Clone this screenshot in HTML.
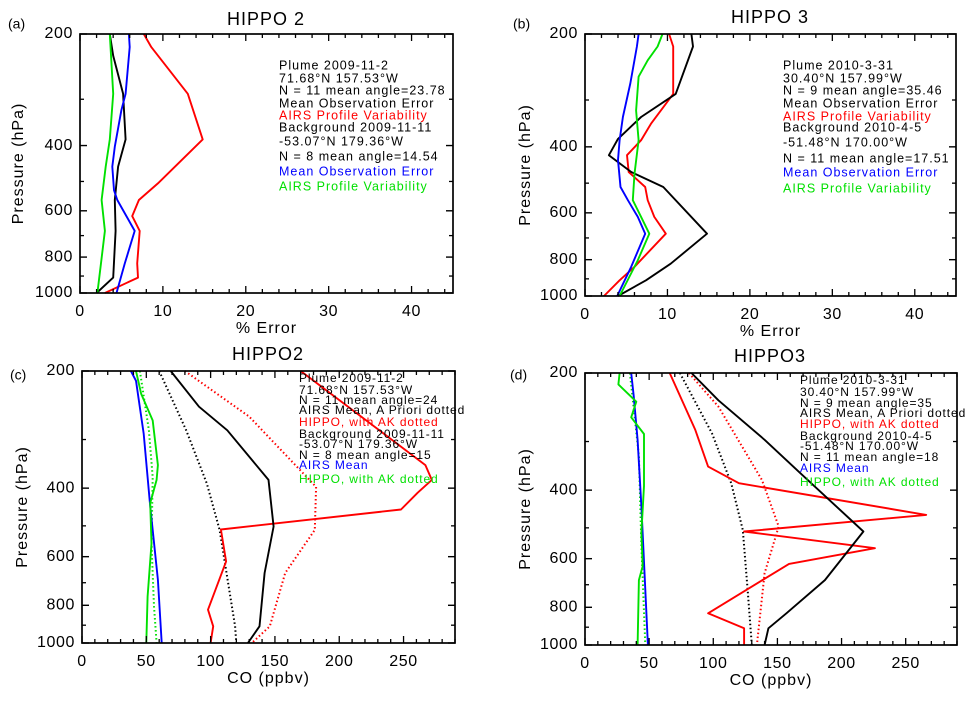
<!DOCTYPE html>
<html><head><meta charset="utf-8"><style>
html,body{margin:0;padding:0;background:#fff;}
svg{display:block;font-family:"Liberation Sans","DejaVu Sans",sans-serif;}
</style></head><body>
<svg id="fig" width="971" height="702" viewBox="0 0 971 702" xmlns="http://www.w3.org/2000/svg"></svg>
<script>
// ---------- data ----------
// Panel (a) HIPPO 2 % error
const aRedP=[200,217,290,385,506,561,620,680,832,909,1000];
const aRedV=[7.7,8.6,13.0,14.8,9.4,7.1,6.3,7.2,6.9,7.0,3.0];
const aBlackP=[200,229,290,385,456,561,680,909,1000];
const aBlackV=[3.6,4.0,5.2,5.5,4.6,4.2,4.3,4.0,2.0];
const aBlueP=[200,217,290,321,403,456,528,561,620,680,832,1000];
const aBlueV=[5.9,6.0,5.5,5.0,4.2,3.9,4.1,4.5,5.6,6.6,5.4,4.4];
const aGreenP=[200,290,385,456,561,680,1000];
const aGreenV=[3.6,4.0,3.6,3.1,2.6,3.0,2.1];
// Panel (b) HIPPO 3 % error
const bRedP=[200,216,289,347,384,421,467,512,555,615,682,836,908,1000];
const bRedV=[10.2,10.7,10.7,8.0,6.8,5.1,5.3,7.3,7.6,8.4,9.8,6.0,4.2,2.3];
const bBlackP=[200,216,289,333,381,421,467,512,682,820,908,1000];
const bBlackV=[12.9,13.1,11.0,6.8,4.0,2.9,5.6,9.5,14.8,10.4,7.4,4.0];
const bBlueP=[200,216,271,333,384,434,512,555,615,682,836,1000];
const bBlueV=[6.5,6.3,5.5,4.6,4.2,4.0,4.3,5.2,6.4,7.3,5.6,3.9];
const bGreenP=[200,216,235,260,320,384,472,555,615,682,803,1000];
const bGreenV=[9.4,8.8,7.6,6.5,6.2,6.5,6.0,5.8,6.8,7.8,6.4,4.2];
// Panel (c) HIPPO2 CO
const cRedP=[200,349,381,411,454,511,617,821,906,1000];
const cRedV=[170,267,272,261,248,108,112,98,102,100];
const cRedDotP=[200,262,397,512,661,906,1000];
const cRedDotV=[80,130,182,181,158,146,132];
const cBlackP=[200,247,284,381,502,661,906,1000];
const cBlackV=[69,91,113,145,149,142,138,129];
const cBlackDotP=[200,284,389,512,906,1000];
const cBlackDotV=[60,81,97,107,119,120];
const cBlueP=[200,212,290,445,688,1000];
const cBlueV=[38,42,48,53,59,62];
const cGreenP=[200,229,268,349,381,437,555,759,1000];
const cGreenV=[42,46,55,59,58,53,54,51,50];
const cGreenDotP=[200,284,375,555,805,1000];
const cGreenDotV=[45,52,55,54,56,58];
// Panel (d) HIPPO3 CO
const dRedP=[200,280,348,384,463,511,564,619,829,906,1000];
const dRedV=[66,86,96,120,266,124,226,159,96,124,124];
const dRedDotP=[200,244,377,496,654,1000];
const dRedDotV=[81,104,138,151,140,134];
const dBlackP=[200,235,297,362,511,681,829,906,1000];
const dBlackV=[83,104,140,168,217,187,157,143,140];
const dBlackDotP=[200,286,384,506,736,1000];
const dBlackDotV=[74,99,114,123,127,130];
const dBlueP=[200,229,297,441,1000];
const dBlueV=[36,38,41,44,49];
const dGreenP=[200,214,237,260,287,390,514,627,681,1000];
const dGreenV=[27,26,40,36,46,46,44,45,42,41];
const dGreenDotP=[200,327,555,1000];
const dGreenDotV=[35,42,44,47];
// ticks
const pTicks=[200,400,600,800,1000];
const pMinor=[300,500,700,900];
const errTicks=[0,10,20,30,40];
const coTicks=[0,50,100,150,200,250];

// ---------- drawing ----------
const NS="http://www.w3.org/2000/svg";
const svg=document.getElementById('fig');
function mk(tag,attrs,parent){const e=document.createElementNS(NS,tag);for(const k in attrs)e.setAttribute(k,attrs[k]);(parent||svg).appendChild(e);return e;}
function txt(s,x,y,size,color,anchor,parent,ls){const t=mk('text',{x:x,y:y,'font-size':size,fill:color,'text-anchor':anchor||'start','dominant-baseline':'middle'},parent);if(ls)t.setAttribute('letter-spacing',ls);t.textContent=s;return t;}

function panel(cfg){
  const g=mk('g',{});
  
  
  const L=cfg.L,R=cfg.R,T=cfg.T,B=cfg.B;
  const xs=v=>L+(v-0)/cfg.xmax*(R-L);
  const ys=p=>T+Math.log(p/200)/Math.log(5)*(B-T);
  cfg.series.forEach(s=>{
    const pts=s.p.map((p,i)=>xs(s.v[i]).toFixed(1)+','+ys(p).toFixed(1)).join(' ');
    const pl=mk('polyline',{points:pts,fill:'none',stroke:s.c,'stroke-width':1.9,'stroke-linejoin':'round'},g);
    if(s.dot){pl.setAttribute('stroke-dasharray','1.5,2.5');pl.setAttribute('stroke-width',2);}
    
    
  });
  const fr=mk('rect',{x:L,y:T,width:R-L,height:B-T,fill:'none',stroke:'#000','stroke-width':1.7},g);
  
  
  pTicks.forEach(p=>{const y=ys(p);mk('line',{x1:L,x2:L+7,y1:y,y2:y,stroke:'#000','stroke-width':1.4},g);mk('line',{x1:R,x2:R-7,y1:y,y2:y,stroke:'#000','stroke-width':1.4},g);
    const t=txt(String(p),L-7,y,16,'#000','end',g,0.6);});
  pMinor.forEach(p=>{const y=ys(p);mk('line',{x1:L,x2:L+4,y1:y,y2:y,stroke:'#000','stroke-width':1.3},g);mk('line',{x1:R,x2:R-4,y1:y,y2:y,stroke:'#000','stroke-width':1.3},g);});
  for(let v=0;v<=cfg.xmax;v+=cfg.minor){const x=xs(v);const maj=Math.abs(v/cfg.major-Math.round(v/cfg.major))<1e-6;const l=maj?7:4;
    mk('line',{x1:x,x2:x,y1:B,y2:B-l,stroke:'#000','stroke-width':1.3},g);mk('line',{x1:x,x2:x,y1:T,y2:T+l,stroke:'#000','stroke-width':1.3},g);}
  cfg.xticks.forEach(v=>{const t=txt(String(v),xs(v),B+19,16,'#000','middle',g,0.6);});
  let t=txt(cfg.title,cfg.tx,cfg.ty,18,'#000','middle',g,1);
  t=txt(cfg.label,cfg.lx,cfg.ly,14,'#000','start',g);
  t=txt(cfg.xtitle,(L+R)/2,B+36,16,'#000','middle',g,1);
  const yc=(T+B)/2;
  t=txt('Pressure (hPa)',0,0,16,'#000','middle',g,1);t.setAttribute('transform','translate('+cfg.yx+','+yc+') rotate(-90)');
  cfg.legend.forEach((e,i)=>{const lt=txt(e[0],cfg.legX,cfg.legY[i],cfg.legSize,e[1],'start',g,cfg.legLS);});
}
const K='#000',RD='#ff0000',BL='#0000ff',GR='#00e000';
panel({name:'panel-a-hippo2-error',L:80,R:453,T:34,B:293,xmax:45,minor:2,major:10,xticks:errTicks,
  title:'HIPPO 2',tx:266,ty:20,label:'(a)',lx:8,ly:25,xtitle:'% Error',yx:19,
  series:[{p:aRedP,v:aRedV,c:RD,n:'red-airs-variability'},{p:aBlackP,v:aBlackV,c:K,n:'black-obs-error'},{p:aBlueP,v:aBlueV,c:BL,n:'blue-obs-error'},{p:aGreenP,v:aGreenV,c:GR,n:'green-airs-variability'}],
  legX:279,legY:[66,79,91,104,116,128,142,157,172,187],legSize:12.5,legLS:1,
  legend:[['Plume 2009-11-2',K],['71.68°N 157.53°W',K],['N = 11 mean angle=23.78',K],['Mean Observation Error',K],['AIRS Profile Variability',RD],['Background 2009-11-11',K],['-53.07°N 179.36°W',K],['N = 8 mean angle=14.54',K],['Mean Observation Error',BL],['AIRS Profile Variability',GR]]});
panel({name:'panel-b-hippo3-error',L:585,R:956,T:34,B:296,xmax:45,minor:2,major:10,xticks:errTicks,
  title:'HIPPO 3',tx:770,ty:18,label:'(b)',lx:513,ly:25,xtitle:'% Error',yx:526,
  series:[{p:bRedP,v:bRedV,c:RD,n:'red-airs-variability'},{p:bBlackP,v:bBlackV,c:K,n:'black-obs-error'},{p:bBlueP,v:bBlueV,c:BL,n:'blue-obs-error'},{p:bGreenP,v:bGreenV,c:GR,n:'green-airs-variability'}],
  legX:783,legY:[66,79,91,104,117,128,143,159,173,189],legSize:12.5,legLS:1,
  legend:[['Plume 2010-3-31',K],['30.40°N 157.99°W',K],['N = 9 mean angle=35.46',K],['Mean Observation Error',K],['AIRS Profile Variability',RD],['Background 2010-4-5',K],['-51.48°N 170.00°W',K],['N = 11 mean angle=17.51',K],['Mean Observation Error',BL],['AIRS Profile Variability',GR]]});
panel({name:'panel-c-hippo2-co',L:82,R:455,T:371,B:643,xmax:290,minor:10,major:50,xticks:coTicks,
  title:'HIPPO2',tx:268,ty:355,label:'(c)',lx:10,ly:376,xtitle:'CO (ppbv)',yx:23,
  series:[{p:cRedDotP,v:cRedDotV,c:RD,dot:1,n:'red-hippo-ak-dotted'},{p:cBlackDotP,v:cBlackDotV,c:K,dot:1,n:'black-apriori-dotted'},{p:cGreenDotP,v:cGreenDotV,c:GR,dot:1,n:'green-hippo-ak-dotted'},{p:cRedP,v:cRedV,c:RD,n:'red-hippo-plume'},{p:cBlackP,v:cBlackV,c:K,n:'black-airs-mean-plume'},{p:cBlueP,v:cBlueV,c:BL,n:'blue-airs-mean-background'},{p:cGreenP,v:cGreenV,c:GR,n:'green-hippo-background'}],
  legX:299,legY:[379,391,401,411,423,435,445,456,466,480],legSize:12,legLS:0.9,
  legend:[['Plume 2009-11-2',K],['71.68°N 157.53°W',K],['N = 11 mean angle=24',K],['AIRS Mean, A Priori dotted',K],['HIPPO, with AK dotted',RD],['Background 2009-11-11',K],['-53.07°N 179.36°W',K],['N = 8 mean angle=15',K],['AIRS Mean',BL],['HIPPO, with AK dotted',GR]]});
panel({name:'panel-d-hippo3-co',L:585,R:957,T:373,B:645,xmax:290,minor:10,major:50,xticks:coTicks,
  title:'HIPPO3',tx:770,ty:357,label:'(d)',lx:510,ly:376,xtitle:'CO (ppbv)',yx:526,
  series:[{p:dRedDotP,v:dRedDotV,c:RD,dot:1,n:'red-hippo-ak-dotted'},{p:dBlackDotP,v:dBlackDotV,c:K,dot:1,n:'black-apriori-dotted'},{p:dGreenDotP,v:dGreenDotV,c:GR,dot:1,n:'green-hippo-ak-dotted'},{p:dRedP,v:dRedV,c:RD,n:'red-hippo-plume'},{p:dBlackP,v:dBlackV,c:K,n:'black-airs-mean-plume'},{p:dBlueP,v:dBlueV,c:BL,n:'blue-airs-mean-background'},{p:dGreenP,v:dGreenV,c:GR,n:'green-hippo-background'}],
  legX:800,legY:[381,393,404,414,425,437,447,458,469,483],legSize:12,legLS:0.9,
  legend:[['Plume 2010-3-31',K],['30.40°N 157.99°W',K],['N = 9 mean angle=35',K],['AIRS Mean, A Priori dotted',K],['HIPPO, with AK dotted',RD],['Background 2010-4-5',K],['-51.48°N 170.00°W',K],['N = 11 mean angle=18',K],['AIRS Mean',BL],['HIPPO, with AK dotted',GR]]});
</script>
</body></html>
